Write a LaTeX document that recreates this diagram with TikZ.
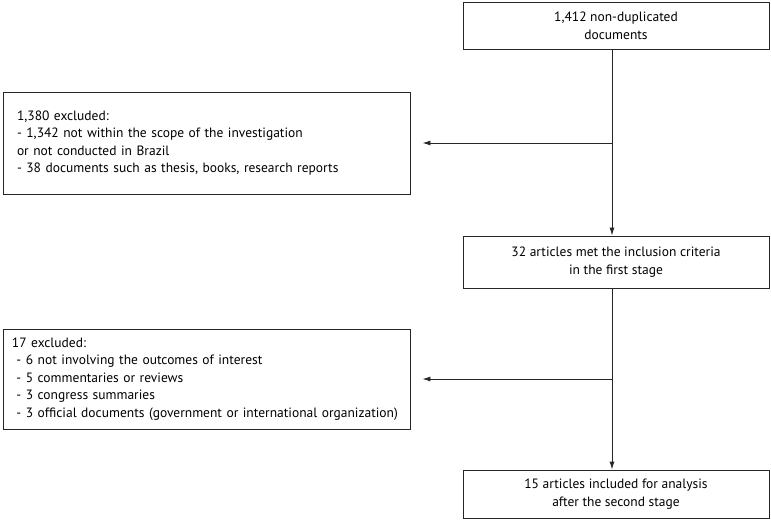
\documentclass[tikz,border=0pt]{standalone}
\usepackage{fontspec}
\setmainfont{PT Sans}
\usetikzlibrary{arrows.meta}
\begin{document}
\begin{tikzpicture}[x=1pt,y=-1pt,
  box/.style={draw=black!85, line width=0.9pt, inner sep=0pt, font=\fontsize{13.5}{17.5}\selectfont},
  cbox/.style={box, minimum width=306pt, align=center},
  lbox/.style={box, minimum width=407pt, align=left},
  conn/.style={draw=black!85, line width=0.9pt},
  arr/.style={conn, -{Latex[length=8pt,width=5pt]}}]
\useasboundingbox (0,0) rectangle (771,523);
\node[cbox, minimum height=47pt] (a) at (616,26) {1,412 non-duplicated\\documents};
\node[lbox, minimum height=102pt, text width=379pt] (b) at (206.5,143) {1,380 excluded:\\- 1,342 not within the scope of the investigation\\or not conducted in Brazil\\- 38 documents such as thesis, books, research reports};
\node[cbox, minimum height=52pt] (c) at (616,262) {32 articles met the inclusion criteria\\in the first stage};
\node[lbox, minimum height=100pt, text width=389pt] (d) at (206.5,379) {17 excluded:\\\ - 6 not involving the outcomes of interest\\\ - 5 commentaries or reviews\\\ - 3 congress summaries\\\ - 3 official documents (government or international organization)};
\node[cbox, minimum height=48pt] (e) at (616,494) {15 articles included for analysis\\after the second stage};
\coordinate (j1) at (612,143);
\coordinate (j2) at (612,379);
\draw[arr] (a.south -| j1) -- (c.north -| j1);
\draw[arr] (c.south -| j2) -- (e.north -| j2);
\draw[arr] (j1) -- ([xshift=12pt]b.east |- j1);
\draw[arr] (j2) -- ([xshift=12pt]d.east |- j2);
\end{tikzpicture}
\end{document}
